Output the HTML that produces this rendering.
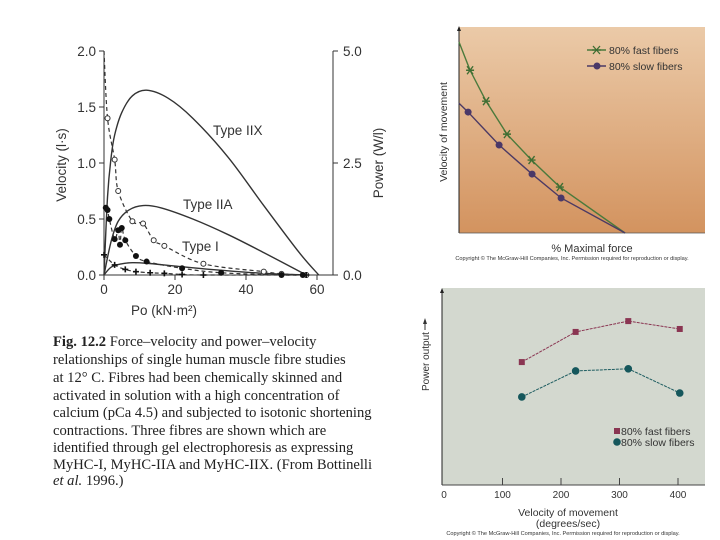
<!DOCTYPE html>
<html><head><meta charset="utf-8"><style>
html,body{margin:0;padding:0;background:#fff;}
svg{display:block;font-family:"Liberation Sans",sans-serif;}
.cap{font-family:"Liberation Serif",serif;font-size:14.6px;fill:#222;}
</style></head><body>
<svg id="s" width="720" height="540" viewBox="0 0 720 540">
<defs>
<linearGradient id="g1" x1="0" y1="0" x2="0" y2="1">
<stop offset="0" stop-color="#ebcaa8"/><stop offset="1" stop-color="#d3935f"/>
</linearGradient>
</defs>
<g id="left"></g>
<g>
<text class="cap" x="53" y="346"><tspan font-weight="bold">Fig. 12.2</tspan>  Force–velocity and power–velocity</text>
<text class="cap" x="53" y="364">relationships of single human muscle fibre studies</text>
<text class="cap" x="53" y="382">at 12° C. Fibres had been chemically skinned and</text>
<text class="cap" x="53" y="400">activated in solution with a high concentration of</text>
<text class="cap" x="53" y="417">calcium (pCa 4.5) and subjected to isotonic shortening</text>
<text class="cap" x="53" y="435">contractions. Three fibres are shown which are</text>
<text class="cap" x="53" y="452">identified through gel electrophoresis as expressing</text>
<text class="cap" x="53" y="469">MyHC-I, MyHC-IIA and MyHC-IIX. (From Bottinelli</text>
<text class="cap" x="53" y="485"><tspan font-style="italic">et al.</tspan> 1996.)</text>
</g>
<g id="tr"></g>
<g id="br"></g>
</svg>
<script>
// ---- Left chart data ----
const iixForce=[0,1,2,3,5,8,12,18,25,35,45,55,60.5];
const iixPower=[0,0.7,1.05,1.25,1.45,1.6,1.65,1.58,1.4,1.05,0.62,0.2,0];
const iiaForce=[0,2,4,7,11,16,25,35,45,57];
const iiaPower=[0,0.3,0.48,0.58,0.62,0.6,0.5,0.36,0.2,0];
const iForce=[0,2,5,8,12,20,30,45,57];
const iPower=[0,0.07,0.1,0.11,0.105,0.08,0.05,0.015,0];
const iixVelF=[0,1,3,4,8,11,14,17,28,45,50,57];
const iixVel=[2.0,1.4,1.03,0.75,0.48,0.46,0.31,0.26,0.1,0.03,0.01,0];
const iixVelMarked=[1,2,3,4,5,6,7,8,9,10,11];
const iiaVelF=[0.5,1,1.5,3,4,5,4.5,6,9,12,22,33,50,56];
const iiaVel=[0.6,0.58,0.5,0.32,0.4,0.42,0.27,0.31,0.17,0.12,0.06,0.02,0,0];
const iVelF=[0,3,6,9,13,17,22,28,57];
const iVel=[0.18,0.09,0.05,0.03,0.02,0.015,0.005,0,0];
const leftYTicks=["0.0","0.5","1.0","1.5","2.0"];
const rightYTicks=["0.0","2.5","5.0"];
const leftXTicks=[0,20,40,60];

// ---- Top right data ----
const fastForce=[0,4.5,11,19.5,29.5,41,67.5];
const fastVel=[92.7,79,64,48,35.4,22.3,0];
const slowForce=[0,3.7,16.3,29.7,41.5,67.5];
const slowVel=[63,58.7,42.7,28.6,17,0];

// ---- Bottom right data ----
const speeds=[133,225,315,403];
const fastPower=[62.4,77.7,83.2,79.2];
const slowPower=[44.7,57.9,59,46.7];
const brXTicks=[0,100,200,300,400];

const NS="http://www.w3.org/2000/svg";
function el(p,t,a,txt){const e=document.createElementNS(NS,t);for(const k in a)e.setAttribute(k,a[k]);if(txt!==undefined)e.textContent=txt;p.appendChild(e);return e;}
function smooth(pts){let d="M"+pts[0][0]+","+pts[0][1];for(let i=0;i<pts.length-1;i++){const p0=pts[i-1]||pts[i],p1=pts[i],p2=pts[i+1],p3=pts[i+2]||p2;const c1x=p1[0]+(p2[0]-p0[0])/6,c1y=p1[1]+(p2[1]-p0[1])/6,c2x=p2[0]-(p3[0]-p1[0])/6,c2y=p2[1]-(p3[1]-p1[1])/6;d+=` C${c1x},${c1y} ${c2x},${c2y} ${p2[0]},${p2[1]}`;}return d;}

// LEFT
(function(){
const g=document.getElementById('left');
const X=v=>104+v*3.55, Y=v=>275-v*112;
let e;
e=el(g,'line',{x1:104,y1:51,x2:104,y2:275,stroke:'#333','stroke-width':1});

e=el(g,'line',{x1:333,y1:51,x2:333,y2:275,stroke:'#333','stroke-width':1});

e=el(g,'line',{x1:104,y1:275,x2:333,y2:275,stroke:'#333','stroke-width':1});

leftYTicks.forEach((t,i)=>{const y=Y(i*0.5);el(g,'line',{x1:99,y1:y,x2:104,y2:y,stroke:'#333'});
e=el(g,'text',{x:96,y:y+5,'text-anchor':'end','font-size':13.5,fill:'#333'},t);
});
rightYTicks.forEach((t,i)=>{const y=275-i*112;el(g,'line',{x1:333,y1:y,x2:338,y2:y,stroke:'#333'});
e=el(g,'text',{x:343,y:y+5,'font-size':13.5,fill:'#333'},t);
});
leftXTicks.forEach(t=>{const x=X(t);el(g,'line',{x1:x,y1:275,x2:x,y2:280,stroke:'#333'});
e=el(g,'text',{x:x,y:294,'text-anchor':'middle','font-size':13.5,fill:'#333'},t);
});
e=el(g,'text',{x:0,y:0,transform:'translate(66,165) rotate(-90)','text-anchor':'middle','font-size':13.5,fill:'#333'},'Velocity (l·s)');

e=el(g,'text',{x:0,y:0,transform:'translate(383,163) rotate(-90)','text-anchor':'middle','font-size':13.5,fill:'#333'},'Power (W/l)');

e=el(g,'text',{x:164,y:315,'text-anchor':'middle','font-size':13.5,fill:'#333'},'Po (kN·m²)');

[[iixForce,iixPower,'power-curve-iix'],[iiaForce,iiaPower,'power-curve-iia'],[iForce,iPower,'power-curve-i']].forEach(([f,p,n])=>{
e=el(g,'path',{d:smooth(f.map((v,i)=>[X(v),Y(p[i])])),fill:'none',stroke:'#333','stroke-width':1.4});
});
[[iixVelF,iixVel,'velocity-curve-iix'],[iiaVelF,iiaVel,'velocity-curve-iia'],[iVelF,iVel,'velocity-curve-i']].forEach(([f,p,n])=>{
const pts=f.map((v,i)=>[v,p[i]]).sort((a,b)=>a[0]-b[0]);
e=el(g,'path',{d:smooth(pts.map(q=>[X(q[0]),Y(q[1])])),fill:'none',stroke:'#333','stroke-width':1.2,'stroke-dasharray':'4,3'});
});
iixVelMarked.forEach(i=>{e=el(g,'circle',{cx:X(iixVelF[i]),cy:Y(iixVel[i]),r:2.5,fill:'#fff',stroke:'#333'});
});
iiaVelF.forEach((f,i)=>{e=el(g,'circle',{cx:X(f),cy:Y(iiaVel[i]),r:3,fill:'#111'});
});
iVelF.forEach((f,i)=>{const x=X(f),y=Y(iVel[i]);e=el(g,'path',{d:`M${x-3},${y}H${x+3}M${x},${y-3}V${y+3}`,stroke:'#111','stroke-width':1.6});
});
e=el(g,'text',{x:213,y:135,'font-size':13.5,fill:'#333'},'Type IIX');
e=el(g,'text',{x:183,y:209,'font-size':13.5,fill:'#333'},'Type IIA');
e=el(g,'text',{x:182,y:251,'font-size':13.5,fill:'#333'},'Type I');
})();

// TOP RIGHT
(function(){
const g=document.getElementById('tr');
const X=v=>459+v*2.46, Y=v=>233-v*2.06;
let e;
e=el(g,'rect',{x:459,y:27,width:246,height:206,fill:'url(#g1)'});
el(g,'line',{x1:459,y1:29,x2:459,y2:233,stroke:'#222'});
el(g,'path',{d:'M457,31 L459,26 L461,31Z',fill:'#222'});
el(g,'line',{x1:459,y1:233,x2:705,y2:233,stroke:'#555','stroke-width':0.8});
e=el(g,'path',{d:'M'+fastForce.map((f,i)=>X(f)+','+Y(fastVel[i])).join(' L'),fill:'none',stroke:'#4b7a3c','stroke-width':1.4});

e=el(g,'path',{d:'M'+slowForce.map((f,i)=>X(f)+','+Y(slowVel[i])).join(' L'),fill:'none',stroke:'#4c3a64','stroke-width':1.4});

for(let i=1;i<fastForce.length-1;i++){const x=X(fastForce[i]),y=Y(fastVel[i]);
e=el(g,'path',{d:`M${x-4},${y}H${x+4}M${x-3},${y-4}L${x+3},${y+4}M${x+3},${y-4}L${x-3},${y+4}`,stroke:'#3f6e33','stroke-width':1.4});
}
for(let i=1;i<slowForce.length-1;i++){e=el(g,'circle',{cx:X(slowForce[i]),cy:Y(slowVel[i]),r:3.5,fill:'#4a3868'});
}
el(g,'line',{x1:587,y1:50,x2:606,y2:50,stroke:'#4b7a3c','stroke-width':1.4});
el(g,'path',{d:'M592,50H601M593,46L600,54M600,46L593,54',stroke:'#3f6e33','stroke-width':1.3});
e=el(g,'text',{x:609,y:54,'font-size':10.5,fill:'#333'},'80% fast fibers');
el(g,'line',{x1:587,y1:66,x2:606,y2:66,stroke:'#4c3a64','stroke-width':1.4});
el(g,'circle',{cx:597,cy:66,r:3.5,fill:'#4a3868'});
e=el(g,'text',{x:609,y:70,'font-size':10.5,fill:'#333'},'80% slow fibers');
e=el(g,'text',{x:0,y:0,transform:'translate(447,132) rotate(-90)','text-anchor':'middle','font-size':10.5,fill:'#333'},'Velocity of movement');

e=el(g,'text',{x:592,y:252,'text-anchor':'middle','font-size':11,fill:'#333'},'% Maximal force');

e=el(g,'text',{x:572,y:260,'text-anchor':'middle','font-size':5.6,fill:'#333'},'Copyright © The McGraw-Hill Companies, Inc. Permission required for reproduction or display.');

})();

// BOTTOM RIGHT
(function(){
const g=document.getElementById('br');
const X=v=>444+v*0.585, Y=v=>485-v*1.97;
let e;
e=el(g,'rect',{x:442,y:288,width:263,height:197,fill:'#d3d8cf'});
el(g,'line',{x1:442,y1:290,x2:442,y2:485,stroke:'#222'});
el(g,'path',{d:'M440,293 L442,288 L444,293Z',fill:'#222'});
el(g,'line',{x1:442,y1:485,x2:705,y2:485,stroke:'#444'});
brXTicks.forEach(t=>{const x=X(t);if(t>0)el(g,'line',{x1:x,y1:478,x2:x,y2:485,stroke:'#444'});
e=el(g,'text',{x:x,y:498,'text-anchor':'middle','font-size':10,fill:'#333'},t);
});
e=el(g,'path',{d:'M'+speeds.map((s,i)=>X(s)+','+Y(fastPower[i])).join(' L'),fill:'none',stroke:'#8a3552','stroke-width':1,'stroke-dasharray':'3,1'});

e=el(g,'path',{d:'M'+speeds.map((s,i)=>X(s)+','+Y(slowPower[i])).join(' L'),fill:'none',stroke:'#1d5c60','stroke-width':1,'stroke-dasharray':'3,1'});

speeds.forEach((s,i)=>{e=el(g,'rect',{x:X(s)-3,y:Y(fastPower[i])-3,width:6,height:6,fill:'#8a3552'});

e=el(g,'circle',{cx:X(s),cy:Y(slowPower[i]),r:3.8,fill:'#15575c'});
});
el(g,'rect',{x:614,y:428,width:6,height:6,fill:'#8a3552'});
e=el(g,'text',{x:621,y:435,'font-size':10.5,fill:'#333'},'80% fast fibers');
el(g,'circle',{cx:617,cy:442,r:3.8,fill:'#15575c'});
e=el(g,'text',{x:621,y:446,'font-size':10.5,fill:'#333'},'80% slow fibers');
e=el(g,'text',{x:0,y:0,transform:'translate(429,391) rotate(-90)','font-size':10,fill:'#333'},'Power output');

el(g,'line',{x1:425,y1:330,x2:425,y2:322,stroke:'#333'});
el(g,'path',{d:'M423,324 L425,318 L427,324Z',fill:'#333'});
e=el(g,'text',{x:568,y:516,'text-anchor':'middle','font-size':10.5,fill:'#333'},'Velocity of movement');

e=el(g,'text',{x:568,y:527,'text-anchor':'middle','font-size':10.5,fill:'#333'},'(degrees/sec)');

e=el(g,'text',{x:563,y:535,'text-anchor':'middle','font-size':5.6,fill:'#333'},'Copyright © The McGraw-Hill Companies, Inc. Permission required for reproduction or display.');

})();
</script>
</body></html>
